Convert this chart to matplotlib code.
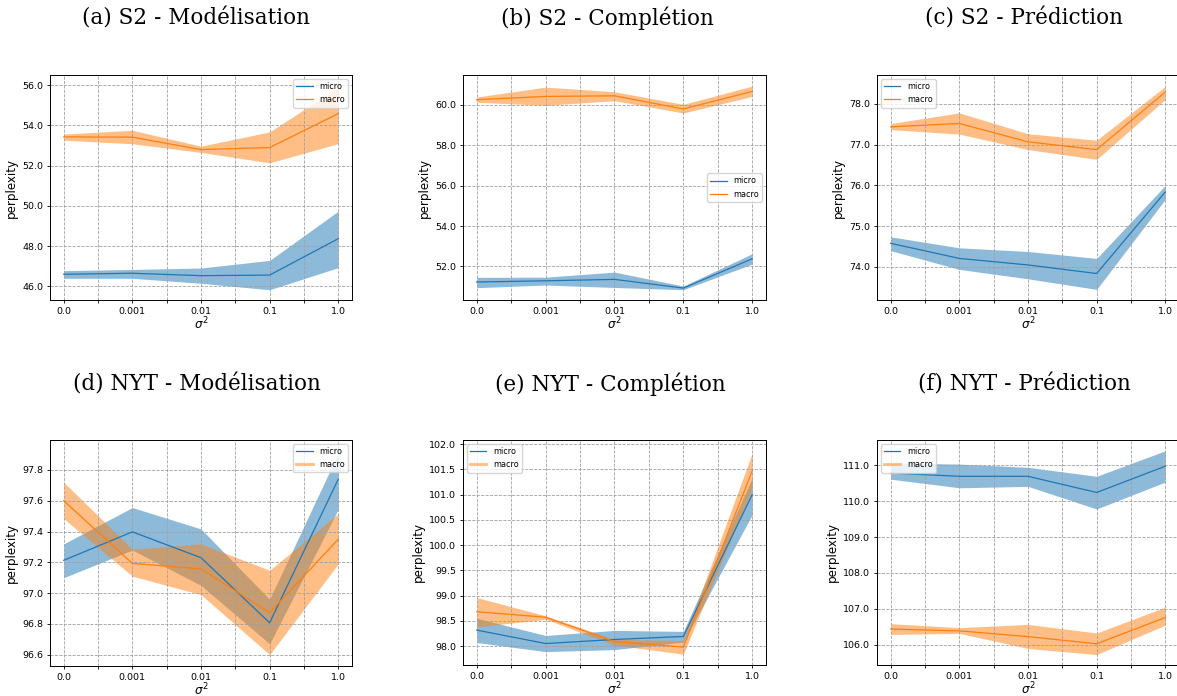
import numpy as np
import matplotlib
matplotlib.use("Agg")
import matplotlib.pyplot as plt
from matplotlib.ticker import FormatStrFormatter, MultipleLocator
from matplotlib.lines import Line2D

sigma_labels = ["0.0", "0.001", "0.01", "0.1", "1.0"]
titles = ["(a) S2 - Modélisation", "(b) S2 - Complétion", "(c) S2 - Prédiction",
          "(d) NYT - Modélisation", "(e) NYT - Complétion", "(f) NYT - Prédiction"]

# (a) S2 - Modelisation
a_micro = [46.60, 46.65, 46.53, 46.56, 48.37]
a_micro_lo = [46.40, 46.40, 46.15, 45.83, 46.93]
a_micro_hi = [46.78, 46.84, 46.91, 47.29, 49.74]
a_macro = [53.43, 53.42, 52.80, 52.90, 54.59]
a_macro_lo = [53.27, 53.09, 52.66, 52.14, 53.10]
a_macro_hi = [53.57, 53.76, 52.97, 53.68, 55.90]

# (b) S2 - Completion
b_micro = [51.23, 51.29, 51.36, 50.93, 52.38]
b_micro_lo = [50.95, 51.08, 50.96, 50.85, 52.12]
b_micro_hi = [51.46, 51.47, 51.72, 51.03, 52.63]
b_macro = [60.25, 60.41, 60.44, 59.79, 60.66]
b_macro_lo = [60.12, 59.97, 60.20, 59.59, 60.41]
b_macro_hi = [60.38, 60.87, 60.64, 60.02, 60.92]

# (c) S2 - Prediction
c_micro = [74.58, 74.21, 74.05, 73.84, 75.84]
c_micro_lo = [74.40, 73.94, 73.71, 73.45, 75.66]
c_micro_hi = [74.74, 74.47, 74.38, 74.21, 76.00]
c_macro = [77.44, 77.52, 77.07, 76.88, 78.29]
c_macro_lo = [77.37, 77.26, 76.88, 76.64, 78.11]
c_macro_hi = [77.52, 77.78, 77.27, 77.11, 78.43]

# (d) NYT - Modelisation
d_micro = [97.213, 97.398, 97.23, 96.807, 97.74]
d_micro_lo = [97.10, 97.28, 97.05, 96.67, 97.545]
d_micro_hi = [97.32, 97.556, 97.417, 96.96, 97.91]
d_macro = [97.60, 97.193, 97.157, 96.873, 97.35]
d_macro_lo = [97.484, 97.11, 96.99, 96.60, 97.19]
d_macro_hi = [97.72, 97.285, 97.32, 97.148, 97.517]

# (e) NYT - Completion
e_micro = [98.316, 98.05, 98.13, 98.19, 101.0]
e_micro_lo = [98.07, 97.89, 97.93, 98.08, 100.60]
e_micro_hi = [98.55, 98.21, 98.31, 98.29, 101.33]
e_macro = [98.68, 98.57, 98.09, 97.98, 101.47]
e_macro_lo = [98.38, 98.53, 98.02, 97.84, 101.13]
e_macro_hi = [98.96, 98.60, 98.13, 98.11, 101.82]

# (f) NYT - Prediction
f_micro = [110.78, 110.69, 110.69, 110.24, 110.97]
f_micro_lo = [110.61, 110.37, 110.41, 109.78, 110.53]
f_micro_hi = [111.06, 111.03, 110.94, 110.69, 111.40]
f_macro = [106.44, 106.39, 106.23, 106.03, 106.76]
f_macro_lo = [106.29, 106.32, 105.90, 105.73, 106.55]
f_macro_hi = [106.59, 106.48, 106.57, 106.33, 107.05]

panels = [
    (a_micro, a_micro_lo, a_micro_hi, a_macro, a_macro_lo, a_macro_hi),
    (b_micro, b_micro_lo, b_micro_hi, b_macro, b_macro_lo, b_macro_hi),
    (c_micro, c_micro_lo, c_micro_hi, c_macro, c_macro_lo, c_macro_hi),
    (d_micro, d_micro_lo, d_micro_hi, d_macro, d_macro_lo, d_macro_hi),
    (e_micro, e_micro_lo, e_micro_hi, e_macro, e_macro_lo, e_macro_hi),
    (f_micro, f_micro_lo, f_micro_hi, f_macro, f_macro_lo, f_macro_hi),
]

# layout / style (pixels)
W, H = 1177, 696
boxes = [(50, 75, 352, 300), (463, 75, 766, 300), (877, 75, 1179, 300),
         (50, 440, 352, 666), (463, 440, 766, 665), (877, 440, 1179, 665)]
ylims = [(45.32, 56.51), (50.34, 61.47), (73.19, 78.71),
         (96.526, 97.995), (97.625, 102.08), (105.44, 111.70)]
ysteps = [2.0, 2.0, 1.0, 0.2, 0.5, 1.0]
legend_locs = ["upper right", "center right", "upper left",
               "upper right", "upper left", "upper left"]
title_pos = [(196, 18), (607, 18), (1024, 18), (197, 384), (610, 384), (1024, 384)]

fig = plt.figure(figsize=(W / 100, H / 100), dpi=100)

x = np.arange(len(sigma_labels))
xt = np.arange(0, len(sigma_labels) - 0.5, 0.5)
xtl = []
for i, v in enumerate(xt):
    xtl.append(sigma_labels[int(v)] if i % 2 == 0 else "")

for k, (box, data) in enumerate(zip(boxes, panels)):
    l, t, r, b = box
    ax = fig.add_axes([l / W, 1 - b / H, (r - l) / W, (b - t) / H])
    mi, mi_lo, mi_hi, ma, ma_lo, ma_hi = data
    ax.plot(x, mi, color="C0", lw=0.9, label="micro")
    ax.fill_between(x, mi_lo, mi_hi, color="C0", alpha=0.5, lw=0)
    ax.plot(x, ma, color="C1", lw=0.9, label="macro")
    ax.fill_between(x, ma_lo, ma_hi, color="C1", alpha=0.5, lw=0)
    ax.set_ylim(*ylims[k])
    ax.yaxis.set_major_locator(MultipleLocator(ysteps[k]))
    ax.yaxis.set_major_formatter(FormatStrFormatter("%.1f"))
    ax.set_xticks(xt)
    ax.set_xticklabels(xtl)
    ax.tick_params(labelsize=6.8, width=0.6, length=2.3, pad=2.5)
    ax.grid(True, linestyle="--", color="#a0a0a0", lw=0.6)
    for s in ax.spines.values():
        s.set_linewidth(0.7)
    ax.set_ylabel("perplexity", fontsize=8.6, labelpad=3)
    ax.set_xlabel(r"$\sigma^2$", fontsize=8.6, labelpad=0)
    if k < 3:
        handles = [Line2D([], [], color="C0", lw=0.9), Line2D([], [], color="C1", lw=0.9)]
    else:
        handles = [Line2D([], [], color="C0", lw=0.9), Line2D([], [], color="C1", lw=2, alpha=0.5)]
    ax.legend(handles, ["micro", "macro"], loc=legend_locs[k], fontsize=5.8,
              handlelength=2.0, borderpad=0.4, labelspacing=0.5)
    tx, ty = title_pos[k]
    fig.text(tx / W, 1 - ty / H, titles[k], ha="center", va="center",
             fontsize=15.5, family="DejaVu Serif")

fig.savefig("out.png", dpi=100)
